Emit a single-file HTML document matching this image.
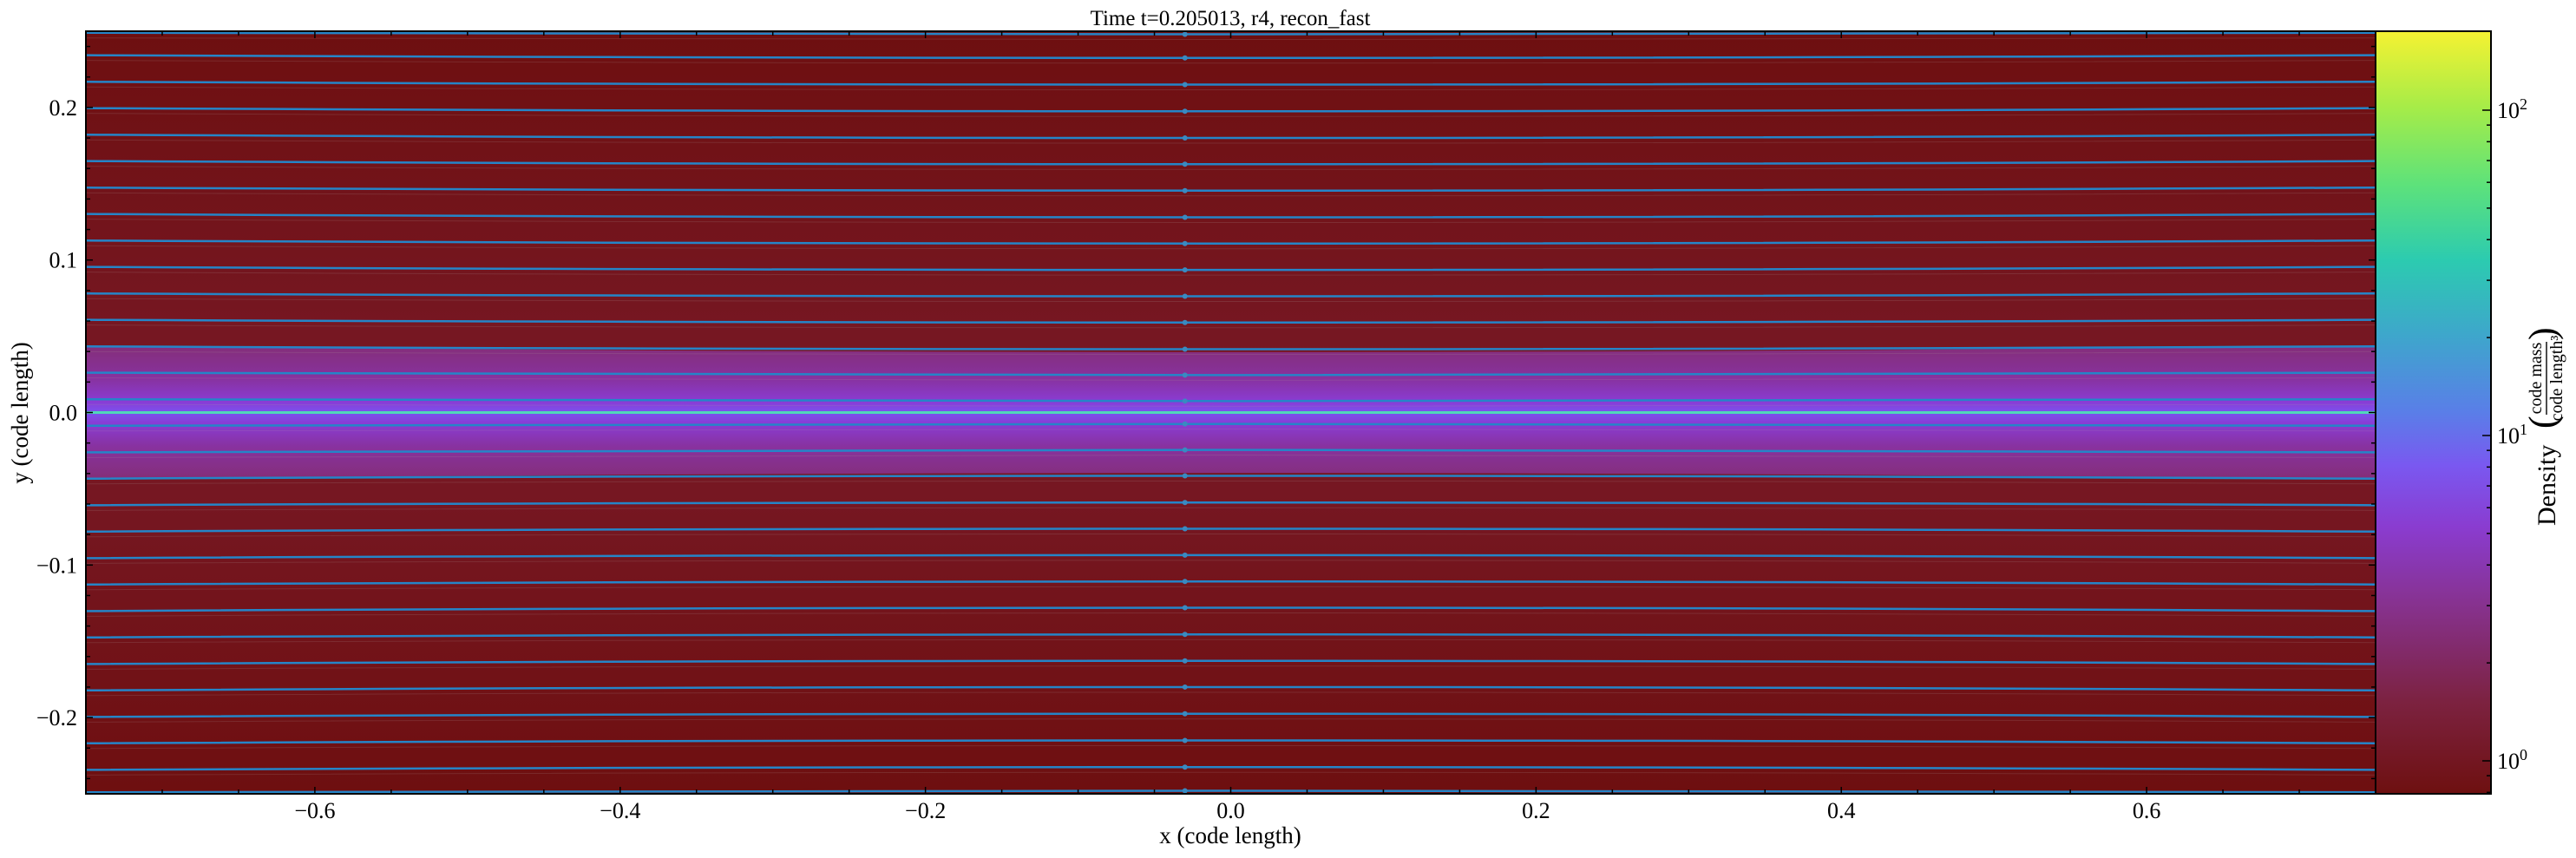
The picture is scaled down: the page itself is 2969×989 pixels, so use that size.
<!DOCTYPE html>
<html><head><meta charset="utf-8"><style>
html,body{margin:0;padding:0;background:#fff;}
svg{display:block;font-family:"Liberation Serif",serif;}
</style></head><body>
<svg id="chart" width="2969" height="989" viewBox="0 0 2969 989" xmlns="http://www.w3.org/2000/svg">
<defs>
<linearGradient id="bg" x1="0" y1="0" x2="0" y2="1">
<stop offset="0" stop-color="#6e0f10"/><stop offset="0.4" stop-color="#761722"/><stop offset="0.5" stop-color="#771924"/><stop offset="0.6" stop-color="#761722"/><stop offset="1" stop-color="#6e0f10"/>
</linearGradient>
<linearGradient id="band" x1="0" y1="0" x2="0" y2="1">
<stop offset="0" stop-color="#842e78"/><stop offset="0.25" stop-color="#8832a0"/><stop offset="0.42" stop-color="#8a3cd4"/><stop offset="0.5" stop-color="#7a52f0"/><stop offset="0.58" stop-color="#8a3cd4"/><stop offset="0.75" stop-color="#8832a0"/><stop offset="1" stop-color="#842e78"/>
</linearGradient>
<linearGradient id="cmap" x1="0" y1="1" x2="0" y2="0">
<stop offset="0" stop-color="#6e1010"/><stop offset="0.12" stop-color="#7c2240"/><stop offset="0.25" stop-color="#873290"/><stop offset="0.35" stop-color="#8a3cd0"/><stop offset="0.43" stop-color="#7a58f0"/><stop offset="0.5" stop-color="#5a7ee8"/><stop offset="0.6" stop-color="#3ea6cc"/><stop offset="0.7" stop-color="#2ccbb0"/><stop offset="0.8" stop-color="#5ee27a"/><stop offset="0.9" stop-color="#a6ec48"/><stop offset="1" stop-color="#f5f232"/>
</linearGradient>
<clipPath id="pc"><rect x="99" y="36" width="2639" height="879"/></clipPath>
</defs>
<text x="1418" y="29" font-size="25" text-anchor="middle">Time t=0.205013, r4, recon_fast</text>
<g id="plot" clip-path="url(#pc)"></g>
<g id="axes"></g>
<rect x="2738" y="36" width="133" height="879" fill="url(#cmap)" stroke="#000" stroke-width="2"/>
<g id="cbticks"></g>
<g transform="translate(2935,476) rotate(-90)">
<text x="-130" y="10" font-size="30">Density</text>
<text x="-18" y="10" font-size="44">(</text>
<text x="40" y="-6" font-size="20" text-anchor="middle">code mass</text>
<line x1="-2" y1="0" x2="82" y2="0" stroke="#000" stroke-width="1.4"/>
<text x="40" y="18" font-size="20" text-anchor="middle">code length³</text>
<text x="84" y="10" font-size="44">)</text>
</g>
<text x="1418" y="972" font-size="27" text-anchor="middle">x  (code length)</text>
<text transform="translate(32,476) rotate(-90)" font-size="27" text-anchor="middle">y  (code length)</text>
</svg>
<script>
const xTicks=[-0.6,-0.4,-0.2,0.0,0.2,0.4,0.6];
const xTickLabels=["\u22120.6","\u22120.4","\u22120.2","0.0","0.2","0.4","0.6"];
const yTicks=[-0.2,-0.1,0.0,0.1,0.2];
const yTickLabels=["\u22120.2","\u22120.1","0.0","0.1","0.2"];
const cbTicks=[1,10,100];
const cbTickLabels=["0","1","2"];
const lineYEdge=[0.249,0.2343,0.2169,0.1996,0.1822,0.1649,0.1475,0.1302,0.1128,0.0955,0.0781,0.0608,0.0434,0.0261,0.0087,-0.0087,-0.0261,-0.0434,-0.0608,-0.0781,-0.0955,-0.1128,-0.1302,-0.1475,-0.1649,-0.1822,-0.1996,-0.2169,-0.2343,-0.249];
const lineYMid=[0.248,0.2325,0.215,0.1975,0.18,0.1628,0.1455,0.128,0.1108,0.0935,0.0762,0.059,0.0415,0.0245,0.0075,-0.0075,-0.0245,-0.0415,-0.059,-0.0762,-0.0935,-0.1108,-0.128,-0.1455,-0.1628,-0.18,-0.1975,-0.215,-0.2325,-0.248];
const bandHalf=0.044;
const X0=99,X1=2738,Y0=36,Y1=915;
const xs=v=>X0+(v+0.75)/1.5*(X1-X0);
const ys=v=>Y1-(v+0.25)/0.5*(Y1-Y0);
const cs=v=>877-Math.log10(v)*375;
const NS="http://www.w3.org/2000/svg";
function mk(t,a,p){const e=document.createElementNS(NS,t);for(const k in a)e.setAttribute(k,a[k]);p.appendChild(e);return e;}
const plot=document.getElementById('plot'),axes=document.getElementById('axes'),cb=document.getElementById('cbticks');
let r=mk('rect',{x:X0,y:Y0,width:X1-X0,height:Y1-Y0,fill:'url(#bg)'},plot);


let b=mk('path',{d:`M${X0},${ys(bandHalf)} Q${xs(0)},${ys(bandHalf*0.8)} ${X1},${ys(bandHalf)} L${X1},${ys(-bandHalf)} Q${xs(0)},${ys(-bandHalf*0.8)} ${X0},${ys(-bandHalf)} Z`,fill:'url(#band)'},plot);


let c=mk('line',{x1:X0,y1:ys(0),x2:X1,y2:ys(0),stroke:'#50d8b8','stroke-width':3},plot);


lineYEdge.forEach((v,i)=>{
  const d=`M${X0},${ys(v)} Q${xs(0)},${ys(2*lineYMid[i]-v)} ${X1},${ys(v)}`;
  let g=mk('path',{d:d,fill:'none',stroke:'#b0a0a0','stroke-width':1,opacity:0.18,transform:'translate(0,6)'},plot);
  
  
  let l=mk('path',{d:d,fill:'none',stroke:'#2585c8','stroke-width':2.5},plot);
  
  
  let dot=mk('circle',{cx:xs(-0.03),cy:ys(lineYMid[i]),r:3,fill:'#3a8ac0'},plot);
  
  
});
let fr=mk('rect',{x:X0,y:Y0,width:X1-X0,height:Y1-Y0,fill:'none',stroke:'#000','stroke-width':2},axes);


for(let v=-0.75;v<=0.7501;v+=0.05){const x=xs(v);const maj=xTicks.some(t=>Math.abs(t-v)<1e-6);const L=maj?8:5;
  mk('line',{x1:x,y1:Y1,x2:x,y2:Y1-L,stroke:'#000','stroke-width':1.5},axes);mk('line',{x1:x,y1:Y0,x2:x,y2:Y0+L,stroke:'#000','stroke-width':1.5},axes);}
for(let v=-0.24;v<=0.2401;v+=0.02){const y=ys(v);const maj=yTicks.some(t=>Math.abs(t-v)<1e-6);const L=maj?8:5;
  mk('line',{x1:X0,y1:y,x2:X0+L,y2:y,stroke:'#000','stroke-width':1.5},axes);mk('line',{x1:X1,y1:y,x2:X1-L,y2:y,stroke:'#000','stroke-width':1.5},axes);}
xTicks.forEach((v,i)=>{let t=mk('text',{x:xs(v),y:Y1+28,'font-size':26,'text-anchor':'middle'},axes);t.textContent=xTickLabels[i];
  
  });
yTicks.forEach((v,i)=>{let t=mk('text',{x:X0-10,y:ys(v)+9,'font-size':26,'text-anchor':'end'},axes);t.textContent=yTickLabels[i];
  
  });
for(let d=-1;d<=2;d++)for(let m=1;m<10;m++){const v=m*Math.pow(10,d);const y=cs(v);if(y<Y0||y>Y1)continue;const L=m==1?10:5;
  mk('line',{x1:2871,y1:y,x2:2871-L,y2:y,stroke:'#000','stroke-width':1.5},cb);}
cbTicks.forEach((v,i)=>{let t=mk('text',{x:2878,y:cs(v)+9,'font-size':26},cb);t.textContent='10';
  
  
  let s=mk('tspan',{dy:-10,'font-size':18},t);s.textContent=cbTickLabels[i];});
</script>
</body></html>
